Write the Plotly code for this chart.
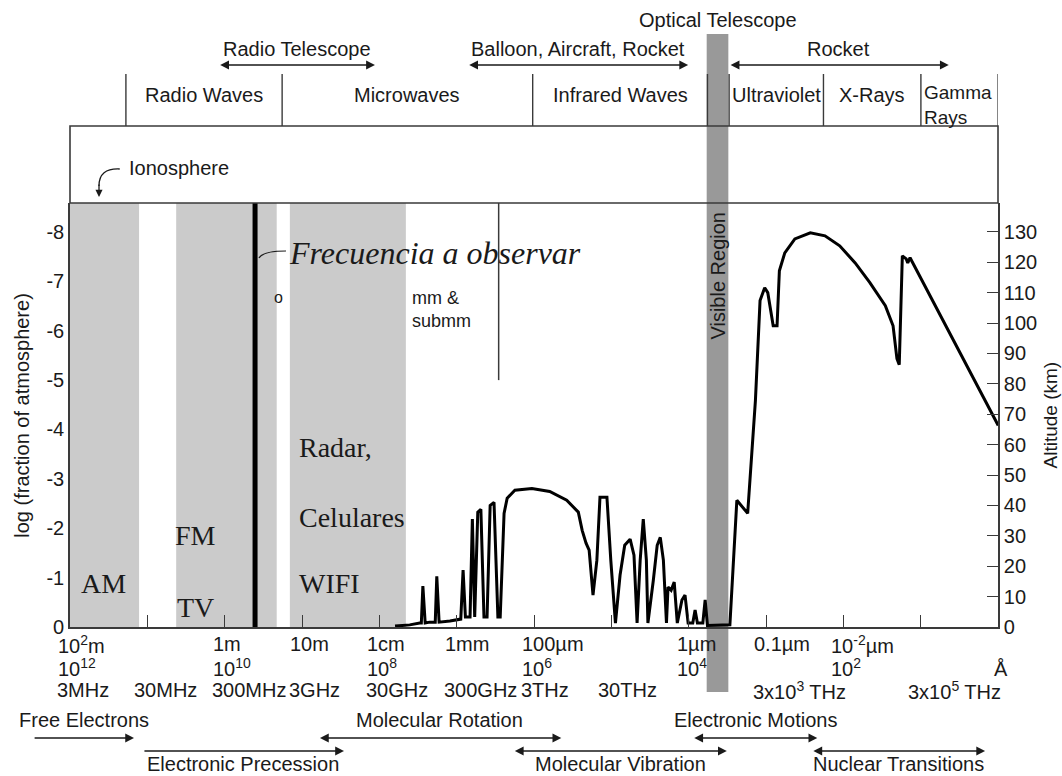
import plotly.graph_objects as go

# ------------------------------------------------------------------
# DATA  (x = log10(frequency / Hz), curve altitude in km)
# ------------------------------------------------------------------
x_range = [6.477, 18.477]
tick_logf = [6.477, 7.477, 8.477, 9.477, 10.477, 11.477, 12.477, 13.477,
             14.477, 15.477, 16.477, 17.477]
wavelength_labels = ["10<sup>2</sup>m", "", "1m", "10m", "1cm", "1mm", "100µm", "",
                     "1µm", "0.1µm", "10<sup>-2</sup>µm", ""]
power_labels = ["10<sup>12</sup>", "", "10<sup>10</sup>", "", "10<sup>8</sup>", "",
                "10<sup>6</sup>", "", "10<sup>4</sup>", "", "10<sup>2</sup>", ""]
freq_labels = ["3MHz", "30MHz", "300MHz", "3GHz", "30GHz", "300GHz", "3THz", "30THz",
               "", "3x10<sup>3</sup> THz", "", "3x10<sup>5</sup> THz"]

left_ticks = [0, -1, -2, -3, -4, -5, -6, -7, -8]
left_ticktext = ["0", "-1", "-2", "-3", "-4", "-5", "-6", "-7", "-8"]
left_range = [0, -8.587]
alt_ticks = [0, 10, 20, 30, 40, 50, 60, 70, 80, 90, 100, 110, 120, 130]
alt_range = [0, 139.5]

curve_logf = [10.68, 10.87, 11.00, 11.02, 11.04, 11.07, 11.13, 11.20, 11.22, 11.25,
              11.39, 11.52, 11.53, 11.56, 11.59, 11.65, 11.68, 11.71, 11.75, 11.79,
              11.83, 11.87, 11.91, 11.96, 12.01, 12.04, 12.09, 12.13, 12.23, 12.45,
              12.68, 12.90, 13.05, 13.10, 13.15, 13.19, 13.24, 13.29, 13.33, 13.42,
              13.47, 13.53, 13.59, 13.65, 13.72, 13.77, 13.81, 13.85, 13.89, 13.93,
              13.95, 14.02, 14.07, 14.11, 14.15, 14.19, 14.21, 14.25, 14.29, 14.33,
              14.39, 14.43, 14.47, 14.53, 14.56, 14.59, 14.66, 14.69, 14.72, 15.01,
              15.10, 15.24, 15.34, 15.40, 15.46, 15.50, 15.57, 15.62, 15.65, 15.72,
              15.85, 16.05, 16.24, 16.43, 16.63, 16.82, 17.02, 17.12, 17.17, 17.20,
              17.24, 17.29, 17.31, 17.34, 18.48]
curve_km = [0.3, 0.7, 1.3, 1.3, 13.5, 1.3, 1.6, 1.6, 16.7, 1.6,
            2.0, 2.6, 2.6, 18.7, 3.3, 3.3, 35.5, 3.3, 37.8, 38.7,
            3.3, 3.3, 40.0, 41.0, 3.3, 3.3, 37.4, 42.4, 45.0, 45.6,
            44.6, 41.7, 37.8, 31.8, 27.6, 25.3, 10.5, 22.0, 42.7, 42.7,
            22.0, 1.3, 17.1, 26.9, 28.9, 23.6, 1.3, 22.0, 35.5, 22.0,
            1.3, 15.4, 26.9, 29.5, 22.0, 1.3, 13.1, 12.1, 14.8, 1.3,
            8.9, 10.5, 1.3, 1.3, 5.6, 1.3, 1.3, 8.9, 0.5, 0.7,
            41.7, 37.4, 74.5, 107.4, 111.6, 110.0, 99.1, 99.1, 117.2, 123.1,
            127.7, 129.7, 128.7, 125.4, 119.8, 113.3, 105.7, 99.1, 88.3, 86.3,
            122.1, 121.1, 119.8, 121.5, 66.3]

# shaded broadcast bands (log10 Hz)
am_band = [6.477, 7.37]
fm_tv_band = [7.85, 9.15]
radar_band = [9.32, 10.82]
observed_logf = 8.87          # "Frecuencia a observar"
mm_boundary_logf = 12.02      # mm & submm divider
mm_boundary_bottom = -5.0
visible_band = [14.71, 14.99]

# top spectral region separators and names
region_edges = [7.20, 9.22, 12.46, 14.72, 15.00, 16.22, 17.48, 18.478]
region_names = ["Radio Waves", "Microwaves", "Infrared Waves", "", "Ultraviolet",
                "X-Rays", "Gamma<br>Rays"]

# observing platforms (start, end, label)
platforms = [("Radio Telescope", 8.40, 10.42),
             ("Balloon, Aircraft, Rocket", 11.62, 14.47),
             ("Rocket", 15.00, 17.84)]

# physical processes (label, start, end, row, double-headed)
processes = [("Free Electrons", 6.00, 7.305, 0, False),
             ("Electronic Precession", 7.42, 10.02, 1, False),
             ("Molecular Rotation", 9.69, 12.83, 0, True),
             ("Molecular Vibration", 12.21, 14.97, 1, True),
             ("Electronic Motions", 14.53, 16.14, 0, True),
             ("Nuclear Transitions", 16.07, 18.31, 1, True)]

# ------------------------------------------------------------------
SANS = "Liberation Sans, Arial, Helvetica, sans-serif"
SERIF = "Liberation Serif, Times New Roman, serif"
TXT = "#1a1a1a"
LINE = "#3a3a3a"
LIGHT = "#cbcbcb"
DARK = "#999999"
FS = 20

W, H = 1062, 776
ML, MR, MT, MB = 70, 64, 203, 149
plot_w = W - ML - MR
plot_h = H - MT - MB


def py(pix):
    """paper y from a page pixel row"""
    return (H - MB - pix) / plot_h


fig = go.Figure()

# atmospheric opacity curve
fig.add_trace(go.Scatter(x=curve_logf, y=curve_km, yaxis="y2", mode="lines",
                         line=dict(color="black", width=3), hoverinfo="skip",
                         showlegend=False))
# observing frequency line
fig.add_trace(go.Scatter(x=[observed_logf, observed_logf], y=[0, left_range[1]],
                         mode="lines", line=dict(color="black", width=5),
                         showlegend=False, hoverinfo="skip"))
# mm/submm divider
fig.add_trace(go.Scatter(x=[mm_boundary_logf, mm_boundary_logf],
                         y=[mm_boundary_bottom, left_range[1]], mode="lines",
                         line=dict(color=LINE, width=1.5), showlegend=False,
                         hoverinfo="skip"))

shapes = []
for band in (am_band, fm_tv_band, radar_band):
    shapes.append(dict(type="rect", xref="x", yref="paper", x0=band[0], x1=band[1],
                       y0=0, y1=1, fillcolor=LIGHT, line=dict(width=0), layer="below"))
# visible / optical telescope band
shapes.append(dict(type="rect", xref="x", yref="paper", x0=visible_band[0],
                   x1=visible_band[1], y0=py(692), y1=py(34), fillcolor=DARK,
                   line=dict(width=0), layer="below"))
# ionosphere box
shapes.append(dict(type="rect", xref="paper", yref="paper", x0=0, x1=1, y0=1,
                   y1=py(126), line=dict(color=LINE, width=1.6)))
# region separators
for e in region_edges:
    shapes.append(dict(type="line", xref="x", yref="paper", x0=e, x1=e,
                       y0=py(126), y1=py(74), line=dict(color=LINE, width=1.4)))
# leader line for observing frequency
shapes.append(dict(type="path", xref="x", yref="paper",
                   path=f"M {observed_logf + 0.05},{py(258)} Q {observed_logf + 0.1},{py(251)} {observed_logf + 0.40},{py(251)}",
                   line=dict(color=TXT, width=1.2)))
# ionosphere curved arrow
shapes.append(dict(type="path", xref="x", yref="paper",
                   path=f"M 7.12,{py(169)} Q 6.85,{py(168)} 6.852,{py(186)}",
                   line=dict(color=TXT, width=1.3)))

ann = []


def text(x, y, s, size=FS, xref="x", yref="paper", xanchor="center", font=SANS,
         angle=0, align="center", xshift=0):
    ann.append(dict(x=x, y=y, xref=xref, yref=yref, text=s, showarrow=False,
                    xanchor=xanchor, yanchor="middle", textangle=angle, align=align,
                    xshift=xshift, font=dict(family=font, size=size, color=TXT)))


def arrow(x0, x1, y, double):
    ann.append(dict(x=x1, y=y, xref="x", yref="paper", ax=x0, ay=0, axref="x",
                    ayref="pixel", text="", showarrow=True, arrowhead=2,
                    arrowside="end+start" if double else "end", arrowsize=1.1,
                    arrowwidth=1.6, arrowcolor=TXT, standoff=0, startstandoff=0))


# bottom axis label rows
for xv, a, b, c in zip(tick_logf, wavelength_labels, power_labels, freq_labels):
    if a:
        text(xv, py(644), a, xanchor="left", xshift=-14)
    if b:
        text(xv, py(667), b, xanchor="left", xshift=-14)
    if c:
        text(xv, py(690), c, xanchor="left", xshift=-15)
text(1.003, py(669), "Å", xref="paper")

# region names
for i, name in enumerate(region_names):
    if not name:
        continue
    xc = (region_edges[i] + region_edges[i + 1]) / 2
    if "<br>" in name:
        text(region_edges[i], py(105), name, xanchor="left", align="left", xshift=1,
             size=19)
    else:
        text(xc, py(95), name)

# platforms
for label, a, b in platforms:
    arrow(a, b, py(65), True)
    text((a + b) / 2, py(49), label)
text((visible_band[0] + visible_band[1]) / 2, py(20), "Optical Telescope")

# processes
for label, a, b, row, dbl in processes:
    ya = py(738) if row == 0 else py(751)
    yt = py(720) if row == 0 else py(764)
    arrow(a, b, ya, dbl)
    text((a + b) / 2, yt, label)

# ionosphere
text(7.21, py(168), "Ionosphere", xanchor="left")
ann.append(dict(x=6.852, y=py(197), xref="x", yref="paper", ax=0, ay=-14,
                text="", showarrow=True, arrowhead=2, arrowsize=1.1, arrowwidth=1.3,
                arrowcolor=TXT, standoff=0))

# in-plot labels
text(am_band[0] + 0.43, py(583), "AM", size=28, font=SERIF)
text(8.10, py(535), "FM", size=28, font=SERIF)
text(8.10, py(607), "TV", size=28, font=SERIF)
text(9.32, py(447), "Radar,", size=28, font=SERIF, xanchor="left", xshift=7)
text(9.32, py(517), "Celulares", size=28, font=SERIF, xanchor="left", xshift=7)
text(9.32, py(583), "WIFI", size=28, font=SERIF, xanchor="left", xshift=7)
text(observed_logf + 0.41, py(253), "<i>Frecuencia a observar</i>", size=32,
     font=SERIF, xanchor="left")
text(9.17, py(297), "o", size=16)
text(10.82, py(309), "mm &<br>submm", size=18, xanchor="left", align="left", xshift=4)
text((visible_band[0] + visible_band[1]) / 2, py(276), "Visible Region", size=20,
     angle=-90)

# axis titles
text(-0.052, 0.5, "log (fraction of atmosphere)", xref="paper", angle=-90)
text(1.0555, 0.5, "Altitude (km)", xref="paper", angle=-90, size=19)

fig.update_layout(
    width=W, height=H,
    margin=dict(l=ML, r=MR, t=MT, b=MB, pad=0),
    paper_bgcolor="white", plot_bgcolor="white",
    showlegend=False,
    font=dict(family=SANS, color=TXT, size=FS),
    xaxis=dict(range=x_range, showgrid=False, zeroline=False, showline=True,
               linecolor=LINE, linewidth=1.6, ticks="inside", ticklen=12,
               tickcolor=LINE, tickwidth=1.3, tickvals=tick_logf[1:],
               showticklabels=False, fixedrange=True),
    yaxis=dict(range=left_range, showgrid=False, zeroline=False, showline=True,
               linecolor=LINE, linewidth=1.6, tickvals=left_ticks,
               ticktext=left_ticktext, ticks="", tickfont=dict(size=FS, color=TXT),
               fixedrange=True),
    yaxis2=dict(range=alt_range, overlaying="y", side="right", showgrid=False,
                zeroline=False, showline=True, linecolor=LINE, linewidth=1.6,
                tickvals=alt_ticks, ticks="inside", ticklen=11, tickcolor=LINE,
                tickwidth=1.3, tickfont=dict(size=FS, color=TXT), fixedrange=True),
    shapes=shapes,
    annotations=ann,
)

fig.write_html("out.html", config={"displayModeBar": False},
               post_script="document.body.style.margin='0px';"
                           "document.body.style.overflow='hidden';")
